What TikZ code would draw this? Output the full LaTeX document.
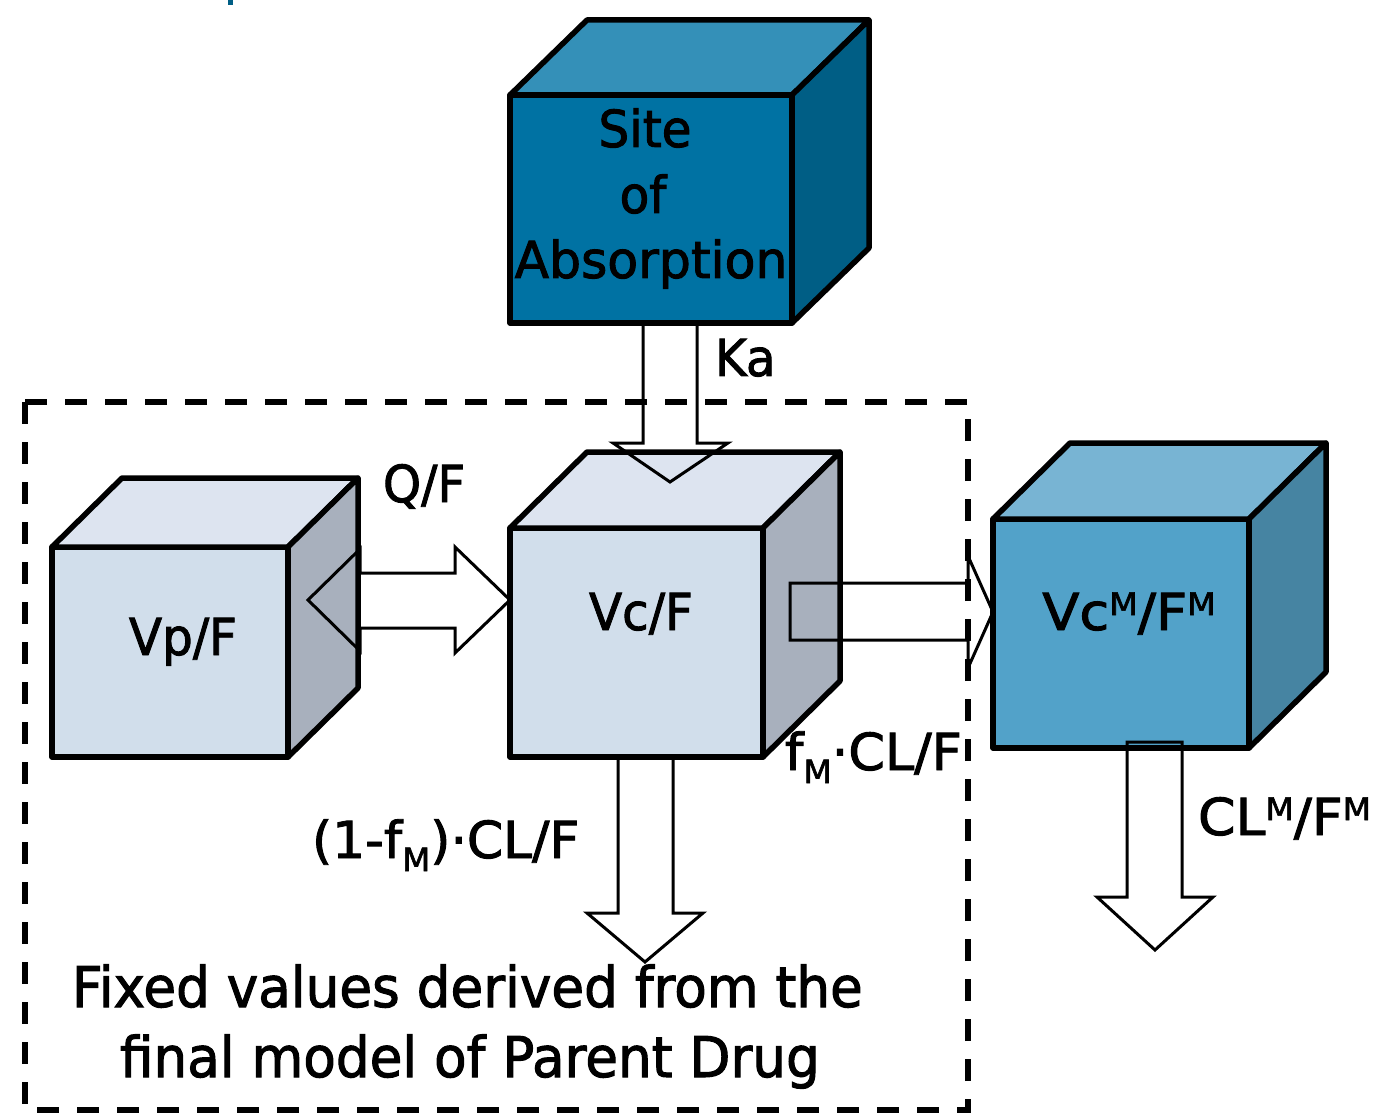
\documentclass[tikz,border=0pt]{standalone}
\usepackage{fontspec}
\setmainfont{DejaVu Sans}[FakeStretch=0.95,FakeBold=1.8]
\usetikzlibrary{calc}
\definecolor{sitefront}{HTML}{0072A3}
\definecolor{sitetop}{HTML}{3490B8}
\definecolor{siteright}{HTML}{005E85}
\definecolor{palefront}{HTML}{D1DEEB}
\definecolor{paletop}{HTML}{DDE4F0}
\definecolor{paleright}{HTML}{A8B0BD}
\definecolor{metfront}{HTML}{52A2C9}
\definecolor{mettop}{HTML}{78B4D3}
\definecolor{metright}{HTML}{4684A2}
\newcommand{\upM}{\raisebox{15pt}{\fontsize{31}{31}\selectfont M}}
\newcommand{\dnM}{\raisebox{-13pt}{\fontsize{32}{32}\selectfont M}}
\newcommand{\cubefaces}[5]{%
  \draw[cubeline, fill=#4] (#1.north west) -- ++(#2,-#3) -- ($(#1.north east)+(#2,-#3)$) -- (#1.north east) -- cycle;
  \draw[cubeline, fill=#5] (#1.north east) -- ++(#2,-#3) -- ($(#1.south east)+(#2,-#3)$) -- (#1.south east) -- cycle;}
\begin{document}
\begin{tikzpicture}[x=1pt,y=-1pt,
  cubeline/.style={draw=black, line width=5.5pt, line join=round},
  face/.style={cubeline, rectangle, inner sep=0pt, outer sep=0pt, anchor=north west},
  blockarrow/.style={draw=black, line width=3pt, line join=miter},
  lbl/.style={font=\fontsize{51}{60}\selectfont, inner sep=0pt, outer sep=0pt},
  bigtxt/.style={font=\fontsize{56}{66}\selectfont, inner sep=0pt, outer sep=0pt, anchor=base west},
  dashbox/.style={draw=black, line width=5.5pt, dash pattern=on 22pt off 18pt}]
\useasboundingbox (0,0) rectangle (1374,1115);
\fill[siteright] (228,0) rectangle (233,5);

% cubes
\node[face, fill=sitefront, minimum width=282pt, minimum height=228pt] (site) at (510,95) {};
\cubefaces{site}{77}{75}{sitetop}{siteright}
\node[face, fill=palefront, minimum width=236pt, minimum height=210pt] (vp) at (52,547) {};
\cubefaces{vp}{70}{69}{paletop}{paleright}
\node[face, fill=palefront, minimum width=253pt, minimum height=229pt] (vc) at (510,528) {};
\cubefaces{vc}{77}{76}{paletop}{paleright}
\node[face, fill=metfront, minimum width=256pt, minimum height=229pt] (vcm) at (993,519) {};
\cubefaces{vcm}{77}{76}{mettop}{metright}

% cube labels
\node[lbl, anchor=base] (tsite) at (645,147) {Site};
\node[lbl, anchor=base] (tof) at (643,213) {of};
\node[lbl, anchor=base] (tabs) at (651,278) {\scalebox{1.04}[1]{Absorption}};
\node[lbl, anchor=base] (tvp) at (183,655) {Vp/F};
\node[lbl, anchor=base] (tvc) at (641,630) {Vc/F};
\node[lbl, anchor=base] (tvcm) at (1129,630) {\scalebox{1.12}[1]{Vc\upM/F\upM}};

% block arrows
\draw[blockarrow] ($(site.south)+(-8,0)$) -- ++(0,120) -- ++(-30,0) -- ++(57,39) -- ++(58,-39) -- ++(-31,0) -- ++(0,-120) -- cycle;
\coordinate (qtip) at ($(vc.north west)+(0,72)$);
\draw[blockarrow] (qtip) -- ++(-55,-53) -- ++(0,26) -- ++(-95,0) -- ++(0,-24) -- ++(-52,51) -- ++(52,51) -- ++(0,-23) -- ++(95,0) -- ++(0,25) -- cycle;
\coordinate (mtip) at ($(vcm.north west)+(0,93)$);
\draw[blockarrow] (mtip) -- ++(-25,-56) -- ++(0,27) -- ++(-178,0) -- ++(0,57) -- ++(178,0) -- ++(0,28) -- cycle;
\draw[blockarrow] ($(vc.south)+(-18.5,0)$) -- ++(0,156) -- ++(-31,0) -- ++(58,49) -- ++(58,-49) -- ++(-30,0) -- ++(0,-156) -- cycle;
\draw[blockarrow] ($(vcm.south)+(6,-6)$) -- ++(0,155) -- ++(-30,0) -- ++(58,53) -- ++(58,-53) -- ++(-31,0) -- ++(0,-155) -- cycle;

% dashed frame
\draw[dashbox] (25,402) rectangle (968,1110);

% arrow labels
\node[lbl, anchor=base west] (lka) at (715,376) {Ka};
\node[lbl, anchor=base west] (lq) at (383,502) {Q/F};
\node[lbl, anchor=base west] (lfm) at (785,770) {\scalebox{1.08}[1]{f\dnM·CL/F}};
\node[lbl, anchor=base west] (l1fm) at (312,858) {\scalebox{1.07}[1]{(1-f\dnM)·CL/F}};
\node[lbl, anchor=base west] (lclm) at (1198,835) {\scalebox{1.11}[1]{CL\upM/F\upM}};

% note
\node[bigtxt] (n1) at (72,1007) {Fixed values derived from the};
\node[bigtxt] (n2) at (120,1077) {final model of Parent Drug};
\end{tikzpicture}
\end{document}
